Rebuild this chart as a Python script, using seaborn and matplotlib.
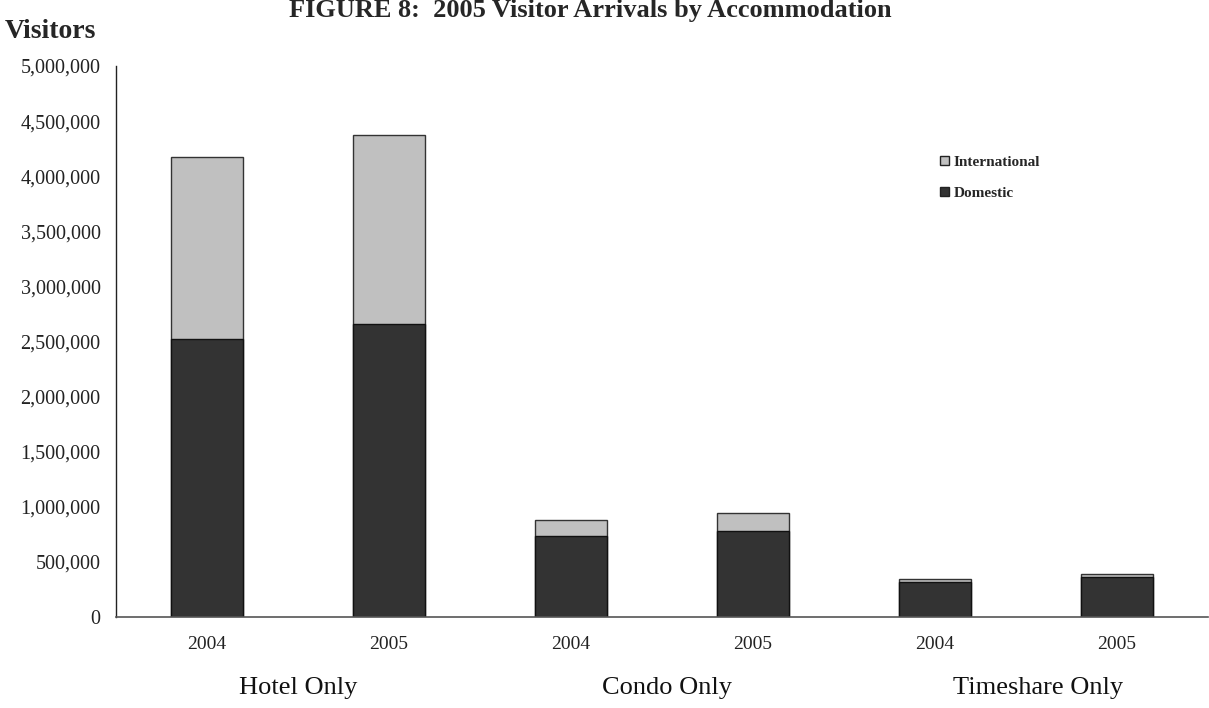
import matplotlib
matplotlib.use("Agg")
import matplotlib.pyplot as plt
import seaborn as sns
import pandas as pd
from matplotlib.patches import Patch
from matplotlib.ticker import FuncFormatter

groups = ["Hotel Only", "Hotel Only", "Condo Only", "Condo Only", "Timeshare Only", "Timeshare Only"]
years = ["2004", "2005", "2004", "2005", "2004", "2005"]
domestic = [2520000, 2656000, 735000, 783000, 322000, 365000]
international = [1651000, 1718000, 145000, 158000, 22000, 22000]
group_names = ["Hotel Only", "Condo Only", "Timeshare Only"]

keys = [f"{g} {y}" for g, y in zip(groups, years)]
totals = [d + i for d, i in zip(domestic, international)]
df = pd.DataFrame({"key": keys, "year": years, "group": groups,
                   "domestic": domestic, "total": totals})

sns.set_style("white")
plt.rcParams["font.family"] = ["Liberation Serif", "DejaVu Serif"]

fig = plt.figure(figsize=(12.09, 7.08), dpi=100)
ax = fig.add_axes([116 / 1209, 1 - 617 / 708, 1092 / 1209, 551 / 708])

c_int = "#c0c0c0"
c_dom = "#333333"
sns.barplot(data=df, x="key", y="total", order=keys, color=c_int, width=0.4,
            edgecolor="#333333", linewidth=1.0, saturation=1, ax=ax)
sns.barplot(data=df, x="key", y="domestic", order=keys, color=c_dom, width=0.4,
            edgecolor="#111111", linewidth=1.0, saturation=1, ax=ax)

ax.set_xlim(-0.5, len(keys) - 0.5)
ax.set_ylim(0, 5000000)
ax.set_yticks(range(0, 5000001, 500000))
ax.yaxis.set_major_formatter(FuncFormatter(lambda v, p: f"{int(v):,}"))
ax.set_xticks(range(len(keys)))
ax.set_xticklabels(years)
ax.set_xlabel("")
ax.set_ylabel("")
ax.tick_params(axis="y", length=0, pad=11, labelsize=14.5, labelcolor="#222222")
ax.tick_params(axis="x", length=0, pad=14, labelsize=14, labelcolor="#222222")
for s in ["top", "right"]:
    ax.spines[s].set_visible(False)
ax.spines["left"].set_color("#222222")
ax.spines["bottom"].set_color("#555555")
ax.spines["left"].set_linewidth(1.0)
ax.spines["bottom"].set_linewidth(1.2)

offsets = [0.0, 0.03, 0.065]
for i, g in enumerate(group_names):
    ax.text(2 * i + 0.5 + offsets[i], -0.128, g, transform=ax.get_xaxis_transform(),
            ha="center", va="center", fontsize=19, color="#111111")

handles = [Patch(facecolor=c_int, edgecolor="#222222", label="International"),
           Patch(facecolor=c_dom, edgecolor="#222222", label="Domestic")]
leg = ax.legend(handles=handles, loc="upper left", bbox_to_anchor=(0.742, 0.862),
                frameon=False, prop={"weight": "bold", "size": 11},
                handlelength=0.6, handleheight=0.6, handletextpad=0.3,
                labelspacing=1.15)

fig.text(0.488, 1 - 17 / 708, "FIGURE 8:  2005 Visitor Arrivals by Accommodation",
         ha="center", va="baseline", fontsize=19, fontweight="bold")
fig.text(5 / 1209, 1 - 38 / 708, "Visitors", ha="left", va="baseline",
         fontsize=20, fontweight="bold")

fig.savefig("out.png", dpi=100, facecolor="white")
